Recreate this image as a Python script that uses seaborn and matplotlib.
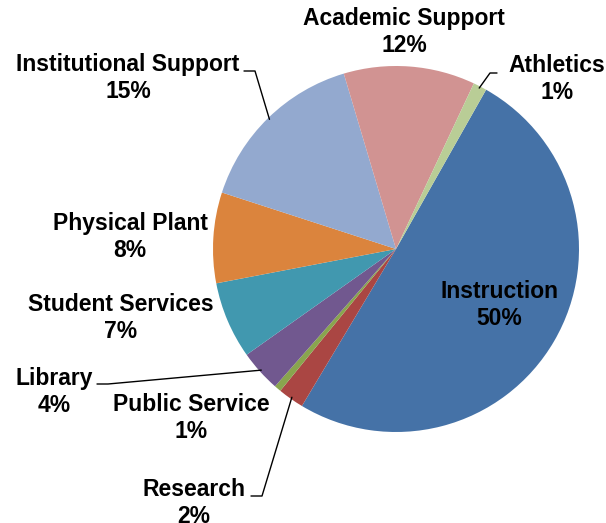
import numpy as np
import matplotlib
matplotlib.use('Agg')
from matplotlib import pyplot as plt
import seaborn as sns

categories = ["Instruction", "Research", "Public Service", "Library", "Student Services",
              "Physical Plant", "Institutional Support", "Academic Support", "Athletics"]
shares = [50.4, 2.3, 0.6, 3.7, 6.8, 8.0, 15.4, 11.6, 1.2]
hex_colors = ["#4572A7", "#AA4643", "#89A54E", "#71588F", "#4198AF",
              "#DB843D", "#93A9CF", "#D19392", "#B9CD96"]

# label centres in pixels (from top-left), leader = whether a line goes to the slice
label_px = {
    "Instruction": (499, 305, False),
    "Research": (194, 503, True),
    "Public Service": (191, 418, False),
    "Library": (54, 392, True),
    "Student Services": (121, 318, False),
    "Physical Plant": (130, 237, False),
    "Institutional Support": (128, 78, True),
    "Academic Support": (404, 32, False),
    "Athletics": (557, 79, True),
}
# where the leader line leaves the text (pixels)
leader_start = {
    "Research": (251, 496),
    "Library": (97, 384),
    "Institutional Support": (244, 71),
    "Athletics": (497, 73),
}

sns.set_style("white")
plt.rcParams['font.family'] = ['Liberation Sans', 'DejaVu Sans']

W, H = 606, 523
cx, cy, R = 396, 249, 183
fig = plt.figure(figsize=(W / 100, H / 100), dpi=100)
ax = fig.add_axes([0, 0, 1, 1])


def to_data(px, py):
    return (px - cx) / R, (cy - py) / R


palette = sns.color_palette(hex_colors)
wedges, _ = ax.pie(shares, colors=palette, startangle=60.5, counterclock=False,
                   radius=1, center=(0, 0), wedgeprops=dict(linewidth=0))

for w, name, val in zip(wedges, categories, shares):
    px, py, lead = label_px[name]
    x, y = to_data(px, py)
    ax.text(x, y, f"{name}\n{val:.0f}%", ha='center', va='center', fontsize=16.5,
            fontweight='bold', linespacing=1.25, color='black')
    if lead:
        mid = np.deg2rad((w.theta1 + w.theta2) / 2)
        ex, ey = np.cos(mid) * 0.99, np.sin(mid) * 0.99
        sx, sy = to_data(*leader_start[name])
        bend = 11 / R if name != "Athletics" else -7 / R
        ax.plot([sx, sx + bend, ex], [sy, sy, ey], color='black', lw=1)

ax.set_xlim(-cx / R, (W - cx) / R)
ax.set_ylim(-(H - cy) / R, cy / R)
ax.set_aspect('equal')
ax.axis('off')

plt.savefig("out.png", dpi=100)
